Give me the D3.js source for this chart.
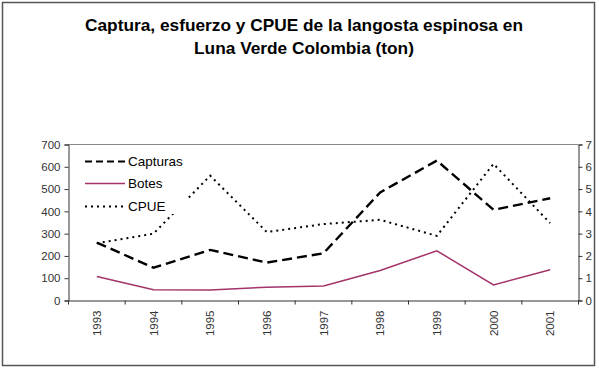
<!DOCTYPE html>
<html><head><meta charset="utf-8">
<script src="https://cdn.jsdelivr.net/npm/d3@7"></script>
<style>body{margin:0;background:#fff}svg{display:block}</style>
</head><body>
<svg id="c" width="599" height="370"></svg>
<script>
const years = ["1993","1994","1995","1996","1997","1998","1999","2000","2001"];
const capturas = [260,147,227,170,212,485,628,407,459];
const botes = [108,48,47,60,65,135,223,70,138];
const cpue = [2.57,3.0,5.6,3.07,3.43,3.62,2.9,6.13,3.47];
const leftTicks = [0,100,200,300,400,500,600,700];
const rightTicks = [0,1,2,3,4,5,6,7];
const titleLines = ["Captura, esfuerzo y CPUE de la langosta espinosa en","Luna Verde Colombia (ton)"];

const svg = d3.select("#c");
const font = "Liberation Sans, Arial, sans-serif";
svg.append("rect").attr("x",2.5).attr("y",2.5).attr("width",592).attr("height",363)
  .attr("fill","#fff").attr("stroke","#555").attr("stroke-width",1.5);

const L=68.5, R=578.5, T=144.5, B=300.5;
const x = d3.scaleBand().domain(years).range([L,R]);
const yL = d3.scaleLinear().domain([0,700]).range([B,T]);
const yR = d3.scaleLinear().domain([0,7]).range([B,T]);

svg.append("g").selectAll("text").data(titleLines).join("text")
  .attr("x",304).attr("y",(d,i)=>31+i*22.5).attr("text-anchor","middle")
  .attr("font-family",font).attr("font-weight","bold").attr("font-size",17.3).attr("fill","#000").text(d=>d);

// plot top border
svg.append("line").attr("x1",L).attr("x2",R).attr("y1",T).attr("y2",T).attr("stroke","#888").attr("stroke-width",1);

const gl = svg.append("g").attr("transform",`translate(${L},0)`)
  .call(d3.axisLeft(yL).tickValues(leftTicks).tickSize(4).tickPadding(4));
const gr = svg.append("g").attr("transform",`translate(${R},0)`)
  .call(d3.axisRight(yR).tickValues(rightTicks).tickFormat(d3.format("d")).tickSize(4).tickPadding(3));
const gb = svg.append("g").attr("transform",`translate(0,${B})`)
  .call(d3.axisBottom(x).tickSize(0).tickPadding(0));
gb.selectAll(".tick text").attr("transform","rotate(-90)").attr("text-anchor","end")
  .attr("x",-10).attr("y",0).attr("dy","0.35em");
// category boundary ticks
gb.append("g").selectAll("line").data(years.concat(["end"])).join("line")
  .attr("x1",(d,i)=>L+i*x.bandwidth()).attr("x2",(d,i)=>L+i*x.bandwidth())
  .attr("y1",0).attr("y2",4).attr("stroke","#333");
[gl,gr,gb].forEach(g=>{
  g.selectAll(".domain").attr("stroke","#333");
  g.selectAll(".tick line").attr("stroke","#333");
  g.selectAll("text").attr("font-family",font).attr("font-size",11.5).attr("fill","#333");
});

const cx = d=>x(d)+x.bandwidth()/2;
const lineL = d3.line().x((d,i)=>cx(years[i])).y(d=>yL(d));
const lineR = d3.line().x((d,i)=>cx(years[i])).y(d=>yR(d));

svg.append("path").attr("d",lineL(botes)).attr("fill","none").attr("stroke","#a3336a").attr("stroke-width",1.5);
svg.append("path").attr("d",lineR(cpue)).attr("fill","none").attr("stroke","#000").attr("stroke-width",2)
  .attr("stroke-dasharray","2,4");
svg.append("path").attr("d",lineL(capturas)).attr("fill","none").attr("stroke","#000").attr("stroke-width",2.4)
  .attr("stroke-dasharray","10,5");

// legend
const leg = svg.append("g");
leg.append("rect").attr("x",78).attr("y",150).attr("width",110).attr("height",64).attr("fill","#fff");
const legItems = [
  {name:"Capturas", color:"#000", dash:"7,4", w:2},
  {name:"Botes", color:"#a3336a", dash:null, w:1.5},
  {name:"CPUE", color:"#000", dash:"2,4", w:2}
];
const rowY = [161.5,183.5,206.5];
legItems.forEach((it,i)=>{
  const ln = leg.append("line").attr("x1",85).attr("x2",125).attr("y1",rowY[i]).attr("y2",rowY[i])
    .attr("stroke",it.color).attr("stroke-width",it.w);
  if(it.dash) ln.attr("stroke-dasharray",it.dash);
  leg.append("text").attr("x",128).attr("y",rowY[i]).attr("dy","0.36em")
    .attr("font-family",font).attr("font-size",13.5).attr("fill","#000").text(it.name);
});
</script>
</body></html>
